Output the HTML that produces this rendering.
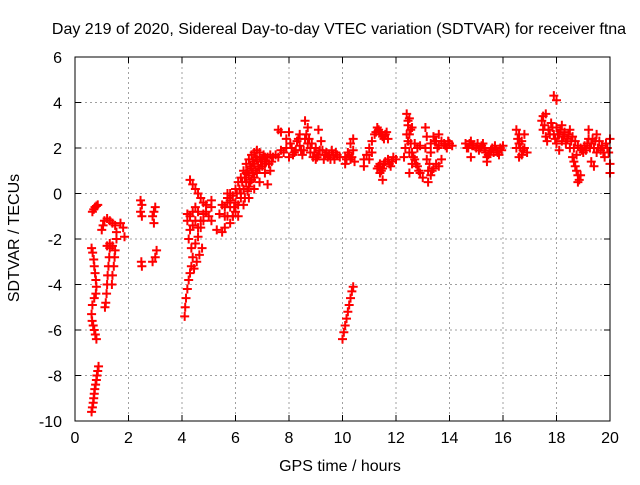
<!DOCTYPE html>
<html><head><meta charset="utf-8"><style>
body{margin:0;background:#fff;}
svg text{font-family:"Liberation Sans",sans-serif;font-size:16px;fill:#000;}
</style></head><body>
<svg id="chart" width="640" height="480" xmlns="http://www.w3.org/2000/svg">
<rect width="640" height="480" fill="#fff"/>
<text x="339" y="34" text-anchor="middle">Day 219 of 2020, Sidereal Day-to-day VTEC variation (SDTVAR) for receiver ftna</text>
<g id="grid"></g>
<g id="ticks"></g>
<g id="marks"></g>
<rect x="75" y="57" width="535" height="364" fill="none" stroke="#000" stroke-width="1"/>
<text x="340" y="471" text-anchor="middle">GPS time / hours</text>
<text transform="translate(19,238) rotate(-90)" text-anchor="middle">SDTVAR / TECUs</text>
</svg>
<script>
const xTicks=[0,2,4,6,8,10,12,14,16,18,20];
const yTicks=[-10,-8,-6,-4,-2,0,2,4,6];
const arcA=[[0.62,-9.6],[0.65,-9.4],[0.68,-9.2],[0.7,-9.0],[0.72,-8.8],[0.74,-8.6],[0.77,-8.4],[0.8,-8.2],[0.82,-8.0],[0.85,-7.8],[0.88,-7.6]];
const arcB=[[0.62,-2.4],[0.66,-2.6],[0.7,-2.9],[0.72,-3.2],[0.75,-3.5],[0.78,-3.8],[0.8,-4.1],[0.78,-4.4],[0.72,-4.6],[0.65,-4.9],[0.62,-5.3],[0.64,-5.6],[0.68,-5.8],[0.72,-6.0],[0.76,-6.2],[0.8,-6.4],[0.65,-0.8],[0.7,-0.7],[0.75,-0.6],[0.8,-0.55],[0.85,-0.5]];
const arcC=[[1.3,-2.4],[1.28,-2.8],[1.25,-3.2],[1.22,-3.6],[1.2,-4.0],[1.18,-4.4],[1.15,-4.8],[1.12,-5.0],[1.0,-1.6],[1.05,-1.4],[1.1,-1.2],[1.2,-1.1],[1.3,-1.2],[1.4,-1.3],[1.5,-1.4],[1.55,-1.7],[1.55,-2.0],[1.2,-2.3],[1.3,-2.2],[1.4,-2.3],[1.5,-2.5],[1.48,-2.8],[1.45,-3.2],[1.4,-3.6],[1.38,-4.0],[1.7,-1.3],[1.8,-1.5],[1.85,-1.9]];
const arcD=[[2.45,-0.3],[2.5,-0.5],[2.45,-0.8],[2.5,-1.0],[2.48,-3.0],[2.5,-3.2],[2.95,-0.8],[2.9,-1.0],[2.95,-1.3],[3.0,-0.6],[2.9,-3.0],[3.0,-2.8],[3.05,-2.5]];
const arcE=[[4.1,-5.4],[4.12,-5.0],[4.15,-4.6],[4.2,-4.2],[4.25,-3.8],[4.3,-3.5],[4.35,-3.2],[4.45,-3.3],[4.55,-3.0],[4.65,-2.7],[4.75,-2.4],[4.2,-1.2],[4.3,-1.0],[4.4,-0.8],[4.5,-1.2],[4.6,-1.5],[4.7,-1.2],[4.6,-0.8],[4.5,-0.6],[4.3,-1.6],[4.25,-2.0],[4.35,-2.4],[4.4,-2.8],[4.5,-2.2],[4.6,-1.9],[4.7,-1.5],[4.8,-1.2],[4.9,-0.8],[4.3,0.6],[4.4,0.4],[4.5,0.2],[4.6,0.0],[4.7,-0.2],[4.8,-0.4],[4.9,-0.5],[5.1,-0.3],[5.1,-0.6],[5.1,-1.2],[5.4,-0.9],[5.3,-1.6],[5.5,-0.5],[5.6,-1.0],[5.7,-0.2],[5.8,-0.6],[5.9,-1.0],[5.7,0.0],[4.2,-0.9],[4.4,-1.4],[4.8,-0.9],[5.0,-1.0]];
const arcF=[[5.8,-0.3],[5.9,-0.1],[6.0,-0.4],[5.9,-1.0],[5.8,-1.3],[5.7,-1.0],[5.6,-1.5],[5.5,-1.7],[5.6,-0.6],[5.7,-0.4],[5.8,0.0],[6.0,-0.8],[6.1,-0.5],[6.2,-0.2],[6.3,0.2],[6.4,0.5],[6.5,0.8],[6.6,1.1],[6.7,1.3],[6.8,1.5],[6.9,1.6],[7.0,1.5],[7.1,1.6],[7.2,1.6],[7.3,1.7],[7.4,1.6],[7.5,1.7],[6.0,0.2],[6.1,0.5],[6.2,0.7],[6.3,1.0],[6.4,1.3],[6.5,1.5],[6.6,1.7],[6.7,1.8],[6.8,1.9],[6.9,1.8],[6.2,0.0],[6.4,0.9],[6.6,0.6],[6.8,0.9],[7.0,1.2],[6.5,-0.2],[6.7,0.2],[6.9,0.5],[7.1,0.9],[7.2,0.4],[7.3,1.0],[6.3,-0.5],[6.1,-1.0],[6.5,0.3],[6.7,0.7],[6.9,1.1],[7.1,1.3],[6.05,0.0],[6.15,0.2],[6.25,0.5],[6.35,0.7],[6.45,1.0],[6.55,1.2],[6.65,1.4],[6.75,1.6],[6.85,1.2],[6.95,1.4],[7.05,1.7],[7.15,1.4],[7.25,1.3],[7.35,1.4],[6.35,-0.2],[6.45,0.1],[6.55,0.5],[6.65,0.9],[6.75,1.0],[5.95,-0.6]];
const arcG=[[7.6,2.8],[7.7,2.7],[7.9,2.4],[8.0,2.7],[7.8,1.8],[7.9,2.0],[8.0,1.6],[8.1,2.0],[8.2,1.8],[8.3,2.3],[8.4,2.1],[8.5,1.7],[8.6,2.4],[8.6,3.2],[8.7,2.9],[8.7,2.2],[8.8,1.8],[8.9,1.6],[9.0,2.0],[9.1,1.7],[9.2,2.3],[9.3,1.5],[9.4,1.8],[9.5,1.7],[9.1,2.8],[9.6,1.9],[9.7,1.5],[9.8,1.7],[9.9,1.6],[10.1,1.6],[10.2,1.8],[10.3,1.5],[10.4,1.9],[10.45,1.4],[10.1,1.3],[10.3,2.2],[10.4,2.4],[7.6,1.6],[7.7,1.9],[8.4,2.6],[8.8,2.0],[9.0,1.5],[8.05,2.2],[8.15,1.7],[8.25,1.9],[8.35,2.4],[8.45,1.9],[8.55,1.9],[8.65,2.6],[8.75,2.4],[8.85,2.2],[8.95,1.8],[9.05,1.6],[9.15,1.9],[9.25,1.9],[9.35,1.7],[9.45,1.6],[9.55,1.5],[9.65,1.7],[9.75,1.8],[10.15,1.5],[10.25,1.7],[10.35,1.6]];
const arcH=[[10.8,1.2],[10.8,1.5],[10.9,1.7],[11.0,2.0],[11.1,2.3],[11.2,2.6],[11.3,2.9],[11.4,2.7],[11.5,2.5],[11.6,2.6],[11.7,2.4],[11.1,1.8],[11.0,1.5],[11.3,1.1],[11.4,1.3],[11.5,1.1],[11.6,1.4],[11.7,1.5],[11.8,1.2],[11.9,1.6],[12.0,1.5],[11.4,0.9],[11.5,0.6],[11.25,2.7],[11.35,2.8],[11.45,2.6],[11.55,2.4],[11.65,2.7],[11.35,1.2],[11.45,1.0],[11.55,1.3],[11.75,1.3],[11.85,1.4]];
const arcI=[[12.4,3.5],[12.5,3.3],[12.45,3.0],[12.5,2.6],[12.55,2.2],[12.6,1.8],[12.7,1.5],[12.8,1.2],[12.9,0.9],[13.0,0.7],[12.4,2.6],[12.35,2.0],[12.3,1.6],[12.5,1.8],[12.6,1.3],[12.5,0.9],[12.6,2.9],[12.7,2.2],[12.8,2.0],[12.9,2.1],[13.1,2.9],[13.15,2.5],[13.1,2.0],[13.15,1.5],[13.2,1.0],[13.2,0.5],[13.3,0.8],[13.4,1.1],[13.5,1.3],[13.6,1.2],[13.7,1.5],[13.3,2.2],[13.4,2.5],[13.5,2.3],[13.6,2.1],[13.7,2.3],[13.8,2.2],[13.9,2.0],[14.0,2.2],[14.1,2.1],[13.3,1.8],[13.6,2.6],[12.45,3.2],[12.55,2.8],[12.45,2.3],[12.65,1.6],[12.75,1.3],[12.85,1.0],[13.25,1.3],[13.35,1.0],[13.45,2.3],[13.55,2.0],[13.85,2.1],[13.95,2.3]];
const arcJ=[[14.6,2.2],[14.7,2.0],[14.8,2.3],[14.9,2.1],[15.0,2.0],[15.1,1.9],[15.2,2.1],[15.3,2.0],[15.4,1.6],[15.5,1.8],[15.6,2.0],[15.7,2.1],[15.8,1.8],[15.9,2.0],[16.0,2.1],[14.8,1.6],[15.4,1.4],[16.5,2.8],[16.6,2.6],[16.7,2.3],[16.8,2.0],[16.5,2.0],[16.6,1.6],[16.7,1.7],[16.9,1.8],[16.8,2.6],[16.6,2.2],[14.65,2.0],[14.75,2.2],[14.85,2.1],[15.05,2.2],[15.15,2.0],[15.25,2.2],[15.35,1.8],[15.45,1.7],[15.55,1.9],[15.65,1.8],[15.75,1.9],[15.85,1.7],[15.95,1.9],[16.55,2.4],[16.65,2.0],[16.75,1.9]];
const arcK=[[17.5,3.4],[17.6,3.5],[17.5,2.8],[17.6,2.5],[17.7,2.8],[17.8,3.1],[17.9,4.3],[18.0,4.1],[17.9,2.6],[18.0,2.9],[18.1,2.6],[18.2,3.0],[18.3,2.7],[18.4,2.4],[18.5,2.0],[18.6,1.6],[18.7,1.2],[18.8,0.8],[18.8,0.5],[18.9,0.8],[18.0,2.2],[18.1,1.9],[18.2,2.3],[18.3,2.6],[18.5,2.8],[18.6,2.5],[18.7,2.3],[18.8,2.1],[18.9,2.0],[19.0,1.8],[19.1,1.9],[19.2,2.4],[19.3,2.2],[19.4,2.0],[19.5,1.8],[19.6,2.3],[19.7,2.1],[19.8,1.6],[19.9,2.0],[20.0,2.4],[19.3,1.4],[19.4,1.2],[20.0,1.3],[20.0,0.9],[19.2,2.8],[19.5,2.6],[17.45,3.2],[17.55,3.0],[17.65,2.3],[17.75,2.6],[17.85,2.9],[17.95,2.4],[18.05,2.6],[18.15,2.8],[18.25,2.5],[18.35,2.2],[18.45,2.6],[18.55,2.3],[18.65,2.0],[18.75,1.7],[18.65,1.4],[18.75,1.0],[18.85,0.6],[18.95,1.9],[19.05,2.1],[19.15,2.2],[19.25,2.0],[19.35,2.4],[19.45,2.3],[19.55,2.0],[19.65,1.9],[19.75,1.8],[19.85,2.2],[19.95,1.8]];
const arcL=[[10.0,-6.4],[10.05,-6.1],[10.1,-5.8],[10.15,-5.5],[10.2,-5.2],[10.25,-4.9],[10.3,-4.6],[10.35,-4.3],[10.4,-4.1]];
const arcs=[arcA,arcB,arcC,arcD,arcE,arcF,arcG,arcH,arcI,arcJ,arcK,arcL];
const NS="http://www.w3.org/2000/svg";
const X0=75,X1=610,Y0=421,Y1=57;
function xs(v){return X0+(v-0)/(20-0)*(X1-X0);}
function ys(v){return Y0-(v+10)/(16)*(Y0-Y1);}
function mk(t,a){const e=document.createElementNS(NS,t);for(const k in a)e.setAttribute(k,a[k]);return e;}
const grid=document.getElementById('grid'),ticks=document.getElementById('ticks'),marks=document.getElementById('marks');
xTicks.forEach(t=>{const x=xs(t);
 if(t>0&&t<20){const g=mk('line',{x1:x,x2:x,y1:Y1,y2:Y0,stroke:'#a0a0a0','stroke-dasharray':'2,3'});
 
 grid.appendChild(g);}
 const tk=mk('path',{d:`M${x},${Y0}v-6M${x},${Y1}v6`,stroke:'#000'});
 
 ticks.appendChild(tk);
 const l=mk('text',{x:x,y:443,'text-anchor':'middle'});l.textContent=t;
 
 ticks.appendChild(l);});
yTicks.forEach(t=>{const y=ys(t);
 if(t>-10&&t<6){const g=mk('line',{x1:X0,x2:X1,y1:y,y2:y,stroke:'#a0a0a0','stroke-dasharray':'2,3'});
 
 grid.appendChild(g);}
 const tk=mk('path',{d:`M${X0},${y}h6M${X1},${y}h-6`,stroke:'#000'});
 
 ticks.appendChild(tk);
 const l=mk('text',{x:62,y:y+6,'text-anchor':'end'});l.textContent=t;
 
 ticks.appendChild(l);});
arcs.forEach(arc=>arc.forEach(p=>{const x=xs(p[0]),y=ys(p[1]);
 const m=mk('path',{d:`M${x-4.5},${y}h9M${x},${y-4.5}v9`,stroke:'#ff0000','stroke-width':2});
 
 marks.appendChild(m);}));
</script>
</body></html>
